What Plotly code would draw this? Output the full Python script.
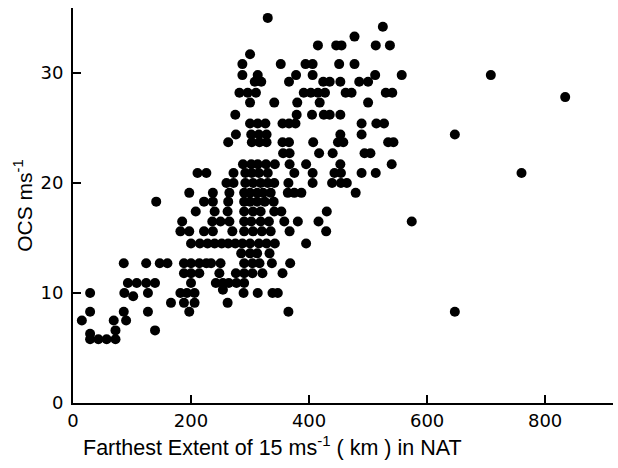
import plotly.graph_objects as go

# OCS (m/s) levels and the farthest extent (km) of points on each level
ocs_levels = [35.0, 34.2, 33.3, 32.5, 31.7, 30.8, 29.8, 29.2, 28.2, 27.8, 27.3, 26.2,
              25.4, 24.4, 23.7, 22.7, 21.7, 20.9, 20.0, 19.1, 18.3, 17.4, 16.5, 15.6,
              14.5, 13.6, 12.7, 11.8, 10.9, 10.3, 10.0, 9.7, 9.1, 8.3, 7.5, 6.6, 6.3, 5.8]

extents_by_level = [
    [330],
    [525],
    [477],
    [415, 446, 455, 513, 537],
    [300],
    [287, 352, 394, 406, 451, 477],
    [287, 313, 378, 406, 512, 557, 708],
    [308, 319, 366, 424, 435, 453, 485, 500],
    [282, 296, 310, 391, 403, 415, 427, 462, 472, 530, 541],
    [834],
    [300, 341, 380, 418, 500],
    [275, 379, 405, 425, 435, 453],
    [300, 313, 326, 355, 366, 377, 489, 514, 527],
    [276, 302, 315, 328, 453, 489, 647],
    [263, 303, 316, 328, 355, 366, 407, 449, 458, 534, 543],
    [356, 367, 417, 440, 494, 504],
    [288, 302, 313, 327, 342, 367, 395, 453, 540],
    [211, 226, 272, 292, 303, 315, 330, 375, 406, 443, 454, 489, 513, 760],
    [260, 272, 292, 305, 318, 330, 341, 365, 406, 439, 454, 464],
    [197, 237, 265, 290, 300, 312, 322, 335, 364, 375, 387, 479],
    [141, 222, 237, 263, 290, 300, 312, 325, 340],
    [208, 240, 262, 290, 305, 318, 341, 353, 430],
    [185, 236, 250, 265, 290, 302, 318, 332, 358, 381, 416, 574],
    [182, 197, 222, 237, 270, 290, 305, 320, 335, 367, 429],
    [200, 215, 228, 240, 252, 263, 275, 287, 300, 315, 328, 342, 395],
    [285, 300, 312, 333],
    [86, 124, 147, 160, 188, 200, 214, 226, 234, 250, 290, 304, 316, 337, 368],
    [188, 200, 214, 248, 276, 290, 304, 321, 355],
    [93, 108, 124, 139, 200, 242, 254, 264, 277, 290],
    [254],
    [29, 87, 127, 182, 193, 206, 289, 313, 338, 347],
    [102],
    [166, 188, 206, 262],
    [29, 86, 127, 197, 365, 647],
    [15, 69, 90],
    [72, 139],
    [29],
    [29, 43, 57, 72],
]

x_ticks = [0, 200, 400, 600, 800]
y_ticks = [0, 10, 20, 30]

xs, ys = [], []
for lvl, row in zip(ocs_levels, extents_by_level):
    for xv in row:
        xs.append(xv)
        ys.append(lvl)

TICK_FONT = "DejaVu Sans"
TITLE_FONT = "Liberation Sans"

fig = go.Figure(go.Scatter(
    x=xs, y=ys, mode="markers",
    marker=dict(size=10, color="black", line=dict(width=0)),
    hoverinfo="skip",
))

axis_common = dict(
    showgrid=False, zeroline=False, showline=True, linecolor="black", linewidth=2,
    ticks="inside", ticklen=8, tickwidth=2, tickcolor="black",
    tickfont=dict(family=TICK_FONT, size=18, color="black"),
)

fig.update_layout(
    width=618, height=468,
    margin=dict(l=73, r=5, t=8, b=65),
    paper_bgcolor="white", plot_bgcolor="white",
    showlegend=False,
    xaxis=dict(range=[0, 915], tickvals=x_ticks, **axis_common),
    yaxis=dict(range=[0, 35.9], tickvals=y_ticks, ticklabelstandoff=4, **axis_common),
    annotations=[
        dict(text="Farthest Extent of 15 ms<sup>-1</sup> ( km ) in NAT",
             xref="paper", yref="paper", x=0.37, y=-0.109,
             xanchor="center", yanchor="middle", showarrow=False,
             font=dict(family=TITLE_FONT, size=21.5, color="black")),
        dict(text="OCS ms<sup>-1</sup>",
             xref="paper", yref="paper", x=-0.094, y=0.5,
             xanchor="center", yanchor="middle", showarrow=False, textangle=-90,
             font=dict(family=TITLE_FONT, size=21, color="black")),
    ],
)

fig.write_html("out.html")
